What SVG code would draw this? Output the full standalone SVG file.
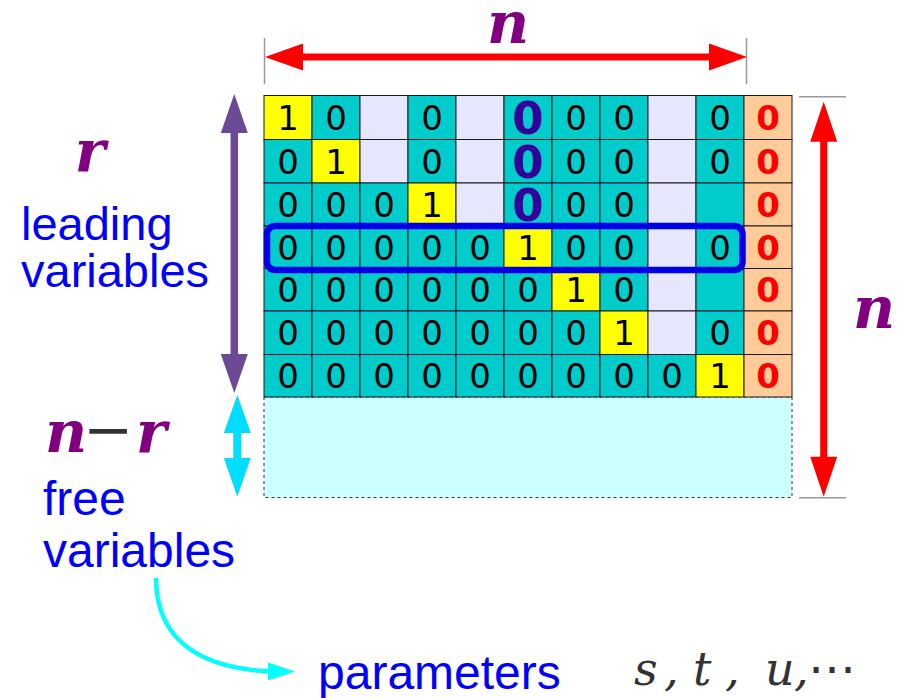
<svg xmlns="http://www.w3.org/2000/svg" width="904" height="698" viewBox="0 0 904 698">
<style>
.t{fill:#00CCCC;stroke:#1a1a1a;stroke-width:1}
.y{fill:#FFFF00;stroke:#1a1a1a;stroke-width:1}
.l{fill:#E6E6FF;stroke:#1a1a1a;stroke-width:1}
.o{fill:#FFCC99;stroke:#1a1a1a;stroke-width:1}
.d{font-family:"DejaVu Sans",sans-serif;font-size:34px;text-anchor:middle;fill:#000}
.rd{font-weight:bold;fill:#FF0000}
.bd{font-size:45px;font-weight:bold;fill:#330099}
.m{font-family:"DejaVu Serif",serif;font-style:italic;font-weight:bold;font-size:58px;fill:#800080}
.lbl{font-family:"Liberation Sans",Arial,sans-serif;font-size:47px;fill:#0000FF}
.tick{stroke:#999;stroke-width:1.5}
</style>
<g id="free-area"><rect x="264" y="397" width="528" height="100.5" fill="#CCFFFF" stroke="#333" stroke-width="1" stroke-dasharray="3,3"/></g>
<g id="grid">
<!-- row 0 -->
<g id="c0-0"><rect class="y" x="264" y="95.5" width="48" height="44"/><text class="d" x="288" y="130">1</text></g>
<g id="c0-1"><rect class="t" x="312" y="95.5" width="48" height="44"/><text class="d" x="336" y="130">0</text></g>
<g id="c0-2"><rect class="l" x="360" y="95.5" width="48" height="44"/></g>
<g id="c0-3"><rect class="t" x="408" y="95.5" width="48" height="44"/><text class="d" x="432" y="130">0</text></g>
<g id="c0-4"><rect class="l" x="456" y="95.5" width="48" height="44"/></g>
<g id="c0-5"><rect class="t" x="504" y="95.5" width="48" height="44"/><text class="d bd" x="528" y="134">0</text></g>
<g id="c0-6"><rect class="t" x="552" y="95.5" width="48" height="44"/><text class="d" x="576" y="130">0</text></g>
<g id="c0-7"><rect class="t" x="600" y="95.5" width="48" height="44"/><text class="d" x="624" y="130">0</text></g>
<g id="c0-8"><rect class="l" x="648" y="95.5" width="48" height="44"/></g>
<g id="c0-9"><rect class="t" x="696" y="95.5" width="48" height="44"/><text class="d" x="720" y="130">0</text></g>
<g id="c0-10"><rect class="o" x="744" y="95.5" width="48" height="44"/><text class="d rd" x="768" y="130">0</text></g>
<!-- row 1 -->
<g id="c1-0"><rect class="t" x="264" y="139.5" width="48" height="43.5"/><text class="d" x="288" y="173.7">0</text></g>
<g id="c1-1"><rect class="y" x="312" y="139.5" width="48" height="43.5"/><text class="d" x="336" y="173.7">1</text></g>
<g id="c1-2"><rect class="l" x="360" y="139.5" width="48" height="43.5"/></g>
<g id="c1-3"><rect class="t" x="408" y="139.5" width="48" height="43.5"/><text class="d" x="432" y="173.7">0</text></g>
<g id="c1-4"><rect class="l" x="456" y="139.5" width="48" height="43.5"/></g>
<g id="c1-5"><rect class="t" x="504" y="139.5" width="48" height="43.5"/><text class="d bd" x="528" y="177.5">0</text></g>
<g id="c1-6"><rect class="t" x="552" y="139.5" width="48" height="43.5"/><text class="d" x="576" y="173.7">0</text></g>
<g id="c1-7"><rect class="t" x="600" y="139.5" width="48" height="43.5"/><text class="d" x="624" y="173.7">0</text></g>
<g id="c1-8"><rect class="l" x="648" y="139.5" width="48" height="43.5"/></g>
<g id="c1-9"><rect class="t" x="696" y="139.5" width="48" height="43.5"/><text class="d" x="720" y="173.7">0</text></g>
<g id="c1-10"><rect class="o" x="744" y="139.5" width="48" height="43.5"/><text class="d rd" x="768" y="173.7">0</text></g>
<!-- row 2 -->
<g id="c2-0"><rect class="t" x="264" y="183" width="48" height="43"/><text class="d" x="288" y="217">0</text></g>
<g id="c2-1"><rect class="t" x="312" y="183" width="48" height="43"/><text class="d" x="336" y="217">0</text></g>
<g id="c2-2"><rect class="t" x="360" y="183" width="48" height="43"/><text class="d" x="384" y="217">0</text></g>
<g id="c2-3"><rect class="y" x="408" y="183" width="48" height="43"/><text class="d" x="432" y="217">1</text></g>
<g id="c2-4"><rect class="l" x="456" y="183" width="48" height="43"/></g>
<g id="c2-5"><rect class="t" x="504" y="183" width="48" height="43"/><text class="d bd" x="528" y="220.5">0</text></g>
<g id="c2-6"><rect class="t" x="552" y="183" width="48" height="43"/><text class="d" x="576" y="217">0</text></g>
<g id="c2-7"><rect class="t" x="600" y="183" width="48" height="43"/><text class="d" x="624" y="217">0</text></g>
<g id="c2-8"><rect class="l" x="648" y="183" width="48" height="43"/></g>
<g id="c2-9"><rect class="t" x="696" y="183" width="48" height="43"/></g>
<g id="c2-10"><rect class="o" x="744" y="183" width="48" height="43"/><text class="d rd" x="768" y="217">0</text></g>
<!-- row 3 -->
<g id="c3-0"><rect class="t" x="264" y="226" width="48" height="42.5"/><text class="d" x="288" y="259.7">0</text></g>
<g id="c3-1"><rect class="t" x="312" y="226" width="48" height="42.5"/><text class="d" x="336" y="259.7">0</text></g>
<g id="c3-2"><rect class="t" x="360" y="226" width="48" height="42.5"/><text class="d" x="384" y="259.7">0</text></g>
<g id="c3-3"><rect class="t" x="408" y="226" width="48" height="42.5"/><text class="d" x="432" y="259.7">0</text></g>
<g id="c3-4"><rect class="t" x="456" y="226" width="48" height="42.5"/><text class="d" x="480" y="259.7">0</text></g>
<g id="c3-5"><rect class="y" x="504" y="226" width="48" height="42.5"/><text class="d" x="528" y="259.7">1</text></g>
<g id="c3-6"><rect class="t" x="552" y="226" width="48" height="42.5"/><text class="d" x="576" y="259.7">0</text></g>
<g id="c3-7"><rect class="t" x="600" y="226" width="48" height="42.5"/><text class="d" x="624" y="259.7">0</text></g>
<g id="c3-8"><rect class="l" x="648" y="226" width="48" height="42.5"/></g>
<g id="c3-9"><rect class="t" x="696" y="226" width="48" height="42.5"/><text class="d" x="720" y="259.7">0</text></g>
<g id="c3-10"><rect class="o" x="744" y="226" width="48" height="42.5"/><text class="d rd" x="768" y="259.7">0</text></g>
<!-- row 4 -->
<g id="c4-0"><rect class="t" x="264" y="268.5" width="48" height="42.5"/><text class="d" x="288" y="302.2">0</text></g>
<g id="c4-1"><rect class="t" x="312" y="268.5" width="48" height="42.5"/><text class="d" x="336" y="302.2">0</text></g>
<g id="c4-2"><rect class="t" x="360" y="268.5" width="48" height="42.5"/><text class="d" x="384" y="302.2">0</text></g>
<g id="c4-3"><rect class="t" x="408" y="268.5" width="48" height="42.5"/><text class="d" x="432" y="302.2">0</text></g>
<g id="c4-4"><rect class="t" x="456" y="268.5" width="48" height="42.5"/><text class="d" x="480" y="302.2">0</text></g>
<g id="c4-5"><rect class="t" x="504" y="268.5" width="48" height="42.5"/><text class="d" x="528" y="302.2">0</text></g>
<g id="c4-6"><rect class="y" x="552" y="268.5" width="48" height="42.5"/><text class="d" x="576" y="302.2">1</text></g>
<g id="c4-7"><rect class="t" x="600" y="268.5" width="48" height="42.5"/><text class="d" x="624" y="302.2">0</text></g>
<g id="c4-8"><rect class="l" x="648" y="268.5" width="48" height="42.5"/></g>
<g id="c4-9"><rect class="t" x="696" y="268.5" width="48" height="42.5"/></g>
<g id="c4-10"><rect class="o" x="744" y="268.5" width="48" height="42.5"/><text class="d rd" x="768" y="302.2">0</text></g>
<!-- row 5 -->
<g id="c5-0"><rect class="t" x="264" y="311" width="48" height="43.5"/><text class="d" x="288" y="345.2">0</text></g>
<g id="c5-1"><rect class="t" x="312" y="311" width="48" height="43.5"/><text class="d" x="336" y="345.2">0</text></g>
<g id="c5-2"><rect class="t" x="360" y="311" width="48" height="43.5"/><text class="d" x="384" y="345.2">0</text></g>
<g id="c5-3"><rect class="t" x="408" y="311" width="48" height="43.5"/><text class="d" x="432" y="345.2">0</text></g>
<g id="c5-4"><rect class="t" x="456" y="311" width="48" height="43.5"/><text class="d" x="480" y="345.2">0</text></g>
<g id="c5-5"><rect class="t" x="504" y="311" width="48" height="43.5"/><text class="d" x="528" y="345.2">0</text></g>
<g id="c5-6"><rect class="t" x="552" y="311" width="48" height="43.5"/><text class="d" x="576" y="345.2">0</text></g>
<g id="c5-7"><rect class="y" x="600" y="311" width="48" height="43.5"/><text class="d" x="624" y="345.2">1</text></g>
<g id="c5-8"><rect class="l" x="648" y="311" width="48" height="43.5"/></g>
<g id="c5-9"><rect class="t" x="696" y="311" width="48" height="43.5"/><text class="d" x="720" y="345.2">0</text></g>
<g id="c5-10"><rect class="o" x="744" y="311" width="48" height="43.5"/><text class="d rd" x="768" y="345.2">0</text></g>
<!-- row 6 -->
<g id="c6-0"><rect class="t" x="264" y="354.5" width="48" height="42.5"/><text class="d" x="288" y="388.2">0</text></g>
<g id="c6-1"><rect class="t" x="312" y="354.5" width="48" height="42.5"/><text class="d" x="336" y="388.2">0</text></g>
<g id="c6-2"><rect class="t" x="360" y="354.5" width="48" height="42.5"/><text class="d" x="384" y="388.2">0</text></g>
<g id="c6-3"><rect class="t" x="408" y="354.5" width="48" height="42.5"/><text class="d" x="432" y="388.2">0</text></g>
<g id="c6-4"><rect class="t" x="456" y="354.5" width="48" height="42.5"/><text class="d" x="480" y="388.2">0</text></g>
<g id="c6-5"><rect class="t" x="504" y="354.5" width="48" height="42.5"/><text class="d" x="528" y="388.2">0</text></g>
<g id="c6-6"><rect class="t" x="552" y="354.5" width="48" height="42.5"/><text class="d" x="576" y="388.2">0</text></g>
<g id="c6-7"><rect class="t" x="600" y="354.5" width="48" height="42.5"/><text class="d" x="624" y="388.2">0</text></g>
<g id="c6-8"><rect class="t" x="648" y="354.5" width="48" height="42.5"/><text class="d" x="672" y="388.2">0</text></g>
<g id="c6-9"><rect class="y" x="696" y="354.5" width="48" height="42.5"/><text class="d" x="720" y="388.2">1</text></g>
<g id="c6-10"><rect class="o" x="744" y="354.5" width="48" height="42.5"/><text class="d rd" x="768" y="388.2">0</text></g>
</g>
<g id="highlight"><rect x="267" y="226" width="475.5" height="44" rx="8" fill="none" stroke="#0000E6" stroke-width="6.5"/></g>
<g id="connectors">
<line class="tick" x1="264.5" y1="38" x2="264.5" y2="84"/>
<line class="tick" x1="746.5" y1="38" x2="746.5" y2="84"/>
<line x1="300" y1="57" x2="712" y2="57" stroke="#FF0000" stroke-width="7"/>
<polygon points="265,57 303,43.5 303,70.5" fill="#FF0000"/>
<polygon points="747,57 709,43.5 709,70.5" fill="#FF0000"/>
<line class="tick" x1="799" y1="96.7" x2="846" y2="96.7"/>
<line class="tick" x1="799" y1="497.7" x2="846" y2="497.7"/>
<line x1="823.7" y1="138" x2="823.7" y2="460" stroke="#FF0000" stroke-width="7"/>
<polygon points="823.7,101.7 810.2,141.7 837.2,141.7" fill="#FF0000"/>
<polygon points="823.7,496.7 810.2,456.7 837.2,456.7" fill="#FF0000"/>
<line x1="234.3" y1="130" x2="234.3" y2="358" stroke="#6A4A94" stroke-width="7.5"/>
<polygon points="234.3,94 220.8,133 247.8,133" fill="#6A4A94"/>
<polygon points="234.3,393 220.8,354 247.8,354" fill="#6A4A94"/>
<line x1="237.3" y1="430" x2="237.3" y2="460" stroke="#00DDFF" stroke-width="8"/>
<polygon points="237.3,395 223.8,433 250.8,433" fill="#00DDFF"/>
<polygon points="237.3,496.7 223.8,458 250.8,458" fill="#00DDFF"/>
<path d="M156,578 C156,640 200,668 270,671.5" fill="none" stroke="#00FFFF" stroke-width="4.5"/>
<polygon points="295,671.5 268,662.5 268,680.5" fill="#00FFFF"/>
</g>
<g id="labels">
<text class="m" x="508" y="43" text-anchor="middle">n</text>
<text class="m" x="874" y="328" text-anchor="middle">n</text>
<text class="m" x="90" y="171" text-anchor="middle">r</text>
<text class="lbl" x="21" y="240">leading</text>
<text class="lbl" x="21" y="287">variables</text>
<text class="m" x="45" y="452">n<tspan fill="#333" font-style="normal" font-weight="normal" font-size="60px" x="83" dy="-2">−</tspan><tspan x="136" dy="2">r</tspan></text>
<text class="lbl" x="43" y="515" style="font-size:48px">free</text>
<text class="lbl" x="43" y="567" style="font-size:48px">variables</text>
<text class="lbl" x="318" y="689" style="font-size:48px">parameters</text>
<text font-family="DejaVu Serif,serif" font-style="italic" font-size="46px" fill="#333" y="685"><tspan x="634">s</tspan><tspan x="664">,</tspan><tspan x="693">t</tspan><tspan x="725">,</tspan><tspan x="765">u</tspan><tspan x="794">,</tspan><tspan x="808" font-style="normal" font-family="Liberation Serif,serif" font-size="48px">⋯</tspan></text>
</g>
</svg>
